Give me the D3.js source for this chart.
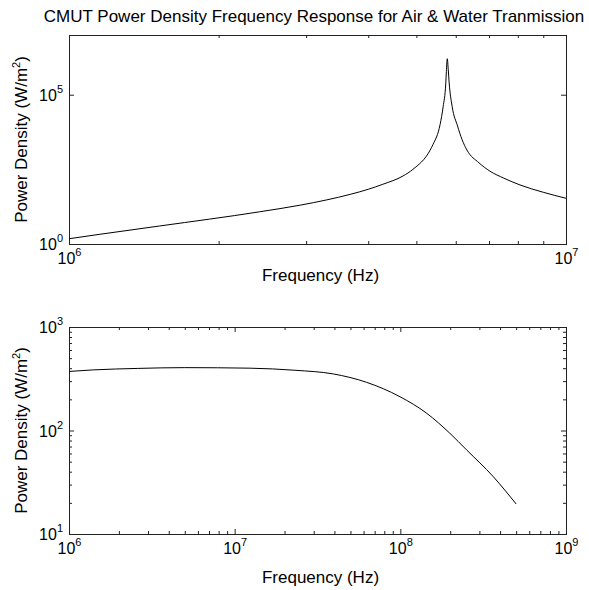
<!DOCTYPE html>
<html>
<head>
<meta charset="utf-8">
<script src="https://cdn.jsdelivr.net/npm/d3@7"></script>
<style>
  body { margin: 0; background: #fff; }
  svg { display: block; font-family: "Liberation Sans", Arial, sans-serif; }
  .axis path { display: none; }
  .axis line { stroke: #222; }
</style>
</head>
<body>
<svg id="chart" width="589" height="590"></svg>
<script>
(function() {
  'use strict';

  // air transmission (top panel)
  var airFreq = [1.00e6, 1.15e6, 1.52e6, 2.42e6, 2.92e6, 3.3e6, 3.68e6, 4.0e6, 4.28e6, 4.70e6, 4.92e6,
    5.33e6, 5.40e6, 5.58e6, 5.66e6, 5.73e6, 5.745e6, 5.77e6, 5.795e6, 5.82e6, 5.90e6,
    6.05e6, 6.18e6, 6.32e6, 6.68e6, 7.03e6, 7.5e6, 8.08e6, 9.0e6, 1.00e7];
  var airPower = [1.5, 2.1, 4.0, 12, 20, 30, 46, 68, 100, 190, 316,
    1400, 2150, 10000, 40000, 2.5e5, 6.0e5, 1.6e6, 7.0e5, 2.5e5, 41000,
    9000, 3100, 1400, 525, 275, 160, 95, 54, 34];

  // water transmission (bottom panel)
  var waterFreq = [1.0e6, 1.4e6, 2.6e6, 5.0e6, 1.24e7, 2.31e7, 3.94e7, 6.26e7, 9.95e7,
    1.44e8, 1.99e8, 2.51e8, 3.64e8, 5.0e8];
  var waterPower = [372, 385, 398, 405, 400, 382, 352, 292, 212,
    147, 94, 65, 35.8, 19.5];

  var airXTicks = [1e6, 1e7];
  var airYTicks = [1e0, 1e5];
  var waterXTicks = [1e6, 1e7, 1e8, 1e9];
  var waterYTicks = [1e1, 1e2, 1e3];

  var titleText = 'CMUT Power Density Frequency Response for Air & Water Tranmission';
  var xLabelText = 'Frequency (Hz)';

  var svg = d3.select('#chart');

  svg.append('text')
    .attr('x', 314)
    .attr('y', 22)
    .attr('text-anchor', 'middle')
    .attr('font-size', 17)
    .text(titleText);

  // writes "10" with the exponent raised
  var powerLabel = function(sel, d) {
    sel.append('tspan').text('10');
    sel.append('tspan')
      .attr('dy', -8)
      .attr('font-size', 11)
      .text(Math.round(Math.log10(d)));
  };

  function drawPanel(cfg) {
    var x = d3.scaleLog().domain(cfg.xDomain).range([cfg.left, cfg.right]);
    var y = d3.scaleLog().domain(cfg.yDomain).range([cfg.bottom, cfg.top]);

    var g = svg.append('g');

    var xMinor = x.ticks().filter(function(t) { return cfg.xTicks.indexOf(t) < 0; });
    var yMinor = cfg.yMinor ? y.ticks().filter(function(t) { return cfg.yTicks.indexOf(t) < 0; }) : [];

    var sides = [
      [d3.axisBottom, x, 'translate(0,' + cfg.bottom + ')'],
      [d3.axisTop, x, 'translate(0,' + cfg.top + ')'],
      [d3.axisLeft, y, 'translate(' + cfg.left + ',0)'],
      [d3.axisRight, y, 'translate(' + cfg.right + ',0)']
    ];
    sides.forEach(function(s, i) {
      var major = i < 2 ? cfg.xTicks : cfg.yTicks;
      var minor = i < 2 ? xMinor : yMinor;
      g.append('g').attr('class', 'axis').attr('transform', s[2])
        .call(s[0](s[1]).tickValues(major).tickSize(-5).tickFormat(''));
      g.append('g').attr('class', 'axis').attr('transform', s[2])
        .call(s[0](s[1]).tickValues(minor).tickSize(-3).tickFormat(''));
    });

    g.append('rect')
      .attr('x', cfg.left + 0.5)
      .attr('y', cfg.top + 0.5)
      .attr('width', cfg.right - cfg.left)
      .attr('height', cfg.bottom - cfg.top)
      .attr('fill', 'none')
      .attr('stroke', '#222');

    var line = d3.line()
      .x(function(d) { return x(d[0]); })
      .y(function(d) { return y(d[1]); })
      .curve(d3.curveMonotoneX);

    g.append('path')
      .datum(d3.zip(cfg.freq, cfg.power))
      .attr('d', line)
      .attr('fill', 'none')
      .attr('stroke', '#000')
      .attr('stroke-width', 1);

    // tick labels
    cfg.xTicks.forEach(function(t) {
      g.append('text')
        .attr('x', x(t) + 0.5)
        .attr('y', cfg.bottom + cfg.xTickGap)
        .attr('text-anchor', 'middle')
        .attr('font-size', 16)
        .call(powerLabel, t);
    });
    cfg.yTicks.forEach(function(t) {
      g.append('text')
        .attr('x', cfg.left - 6)
        .attr('y', y(t) + 6)
        .attr('text-anchor', 'end')
        .attr('font-size', 16)
        .call(powerLabel, t);
    });

    g.append('text')
      .attr('x', (cfg.left + cfg.right) / 2 + 3)
      .attr('y', cfg.xLabelY)
      .attr('text-anchor', 'middle')
      .attr('font-size', 17)
      .text(xLabelText);

    var yl = g.append('text')
      .attr('transform', 'translate(27,' + (cfg.top + cfg.bottom) / 2 + ') rotate(-90)')
      .attr('text-anchor', 'middle')
      .attr('font-size', 17);
    yl.append('tspan').text('Power Density (W/m');
    yl.append('tspan').attr('dy', -7).attr('font-size', 11).text('2');
    yl.append('tspan').attr('dy', 7).text(')');
  }

  drawPanel({
    left: 69, right: 566, top: 35, bottom: 244,
    xDomain: [1e6, 1e7], yDomain: [1e0, 1e7],
    xTicks: airXTicks, yTicks: airYTicks, yMinor: false,
    xTickGap: 20, xLabelY: 281,
    freq: airFreq, power: airPower
  });

  drawPanel({
    left: 69, right: 566, top: 327, bottom: 534,
    xDomain: [1e6, 1e9], yDomain: [1e1, 1e3],
    xTicks: waterXTicks, yTicks: waterYTicks, yMinor: true,
    xTickGap: 20, xLabelY: 583,
    freq: waterFreq, power: waterPower
  });
})();
</script>
</body>
</html>
